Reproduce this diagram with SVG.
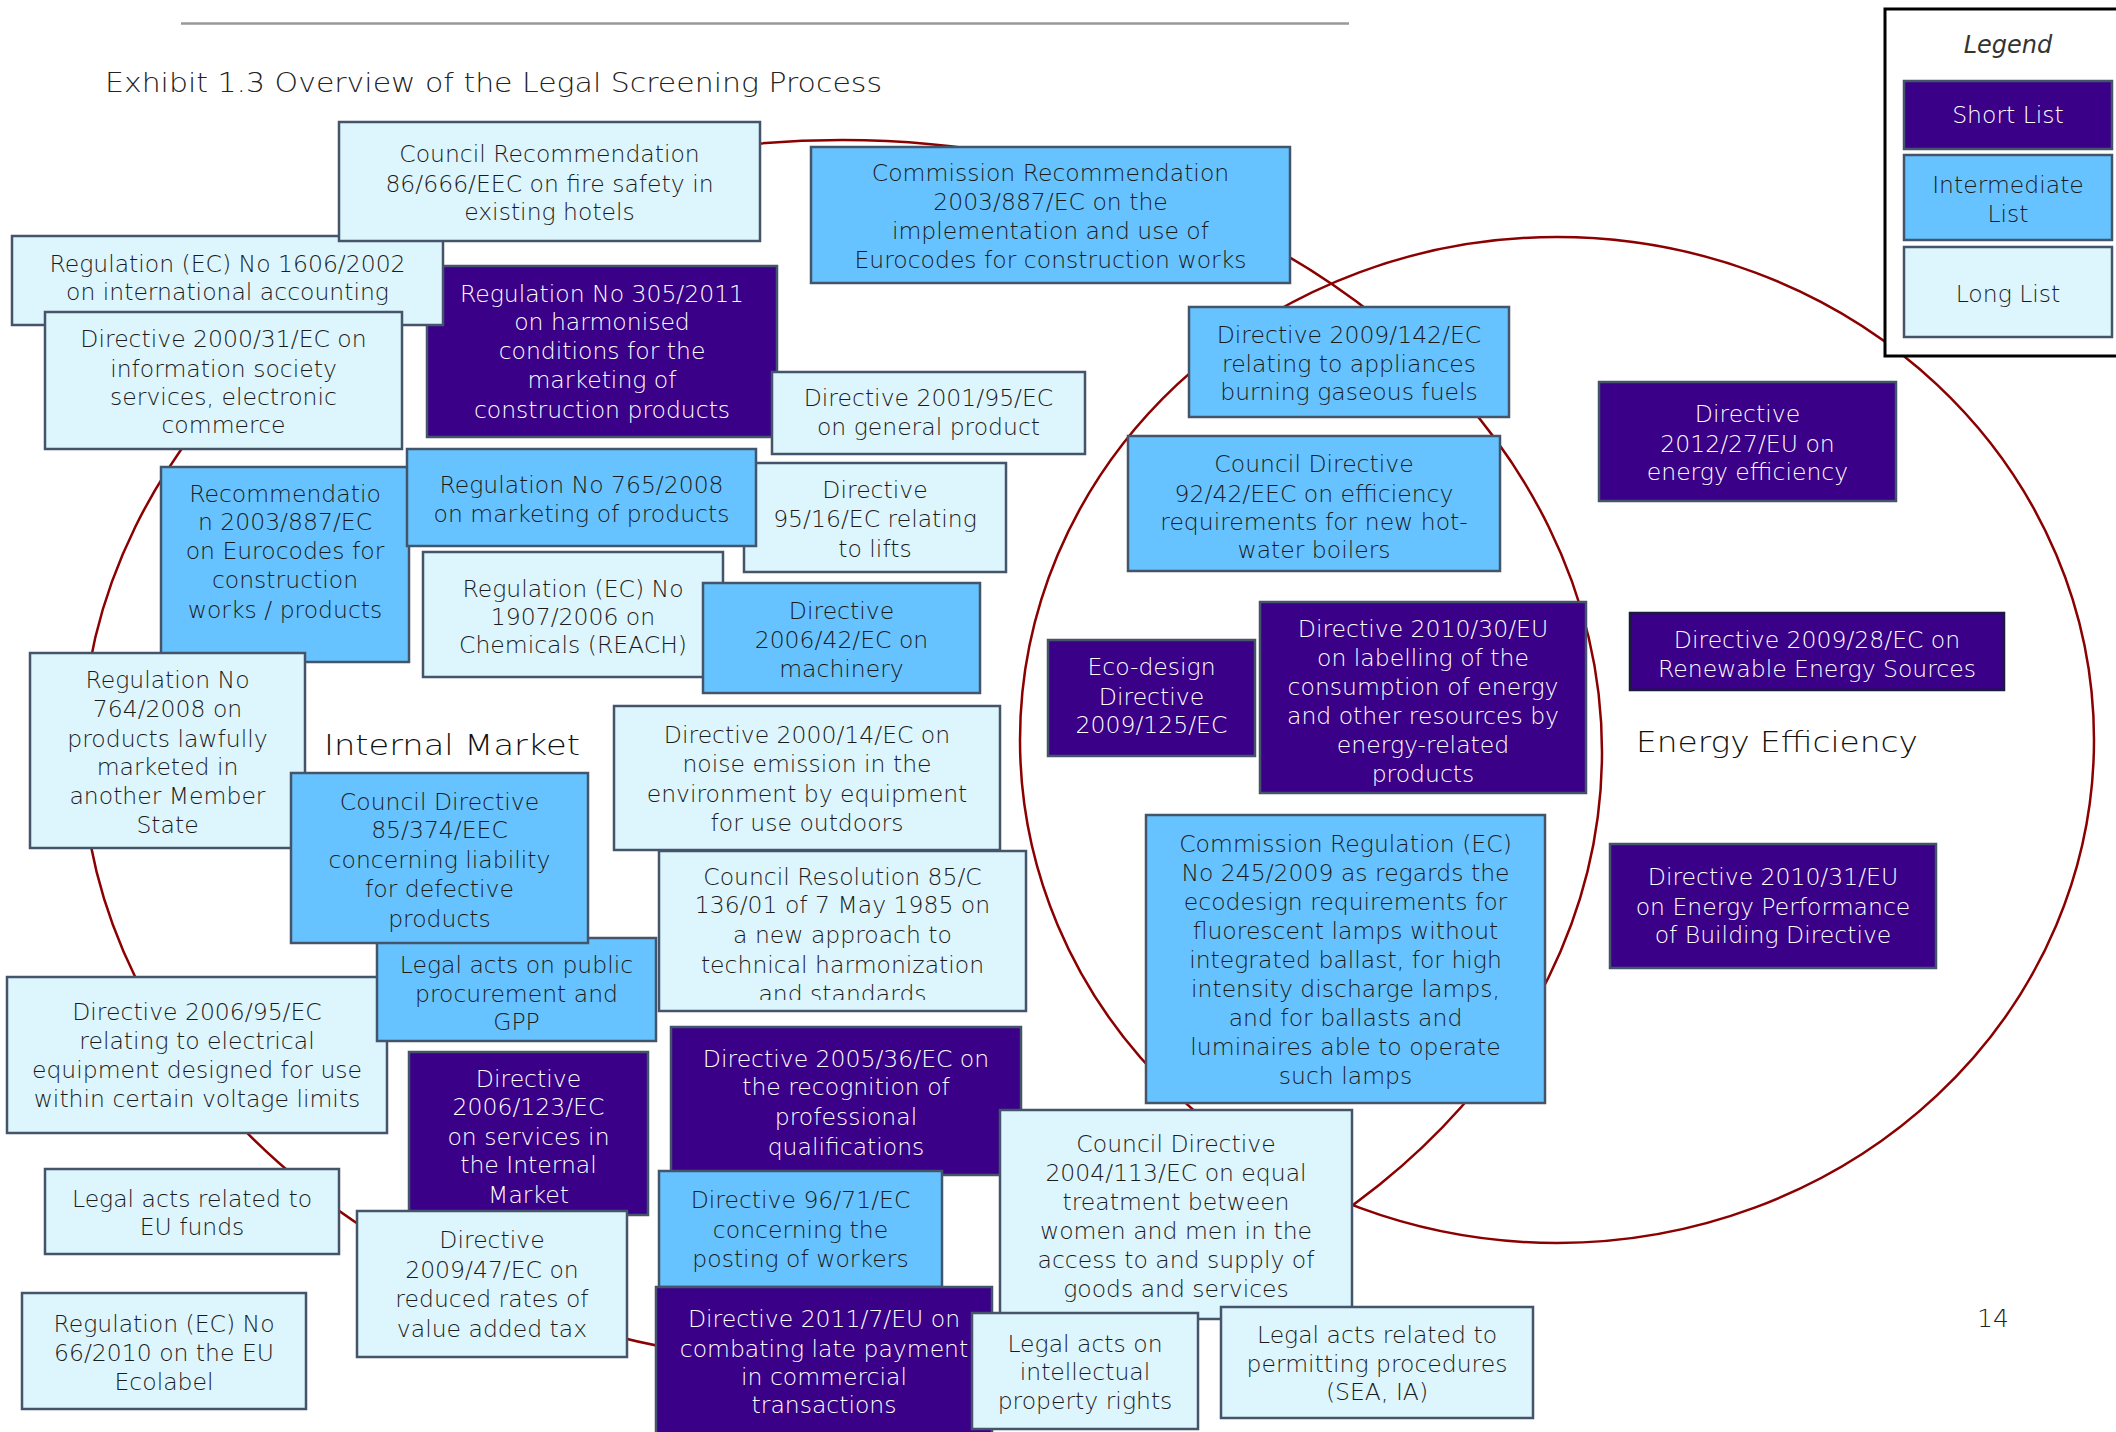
<svg xmlns="http://www.w3.org/2000/svg" width="2116" height="1432" viewBox="0 0 2116 1432">
<style>
.box rect{stroke:#44546A;stroke-width:2.5}
.s rect{fill:#3A0088}
.i rect{fill:#66C3FF}
.l rect{fill:#DDF5FD}
text{font-family:"DejaVu Sans","Liberation Sans",sans-serif;font-weight:200}
.box text{font-size:23.5px;text-anchor:middle;fill:#1b1b1b}
.s text{fill:#ffffff}
.area{fill:none;stroke:#8B0000;stroke-width:2.5}
.lbl{font-size:28px;fill:#111}
</style>
<defs>
<clipPath id="c15"><rect x="659" y="851" width="367" height="149"/></clipPath>
<clipPath id="c32"><rect x="1260" y="602" width="326" height="184"/></clipPath>
<clipPath id="c33"><rect x="1630" y="613" width="374" height="69"/></clipPath>
</defs>
<rect x="0" y="0" width="2116" height="1432" fill="#ffffff"/>
<line x1="181" y1="23.5" x2="1349" y2="23.5" stroke="#999999" stroke-width="2.5"/>
<text x="105" y="92" font-size="26" fill="#222" textLength="777" lengthAdjust="spacingAndGlyphs">Exhibit 1.3 Overview of the Legal Screening Process</text>
<g id="connectors">
<ellipse class="area" cx="842" cy="752" rx="760" ry="612"/>
<ellipse class="area" cx="1557" cy="740" rx="537" ry="503"/>
</g>
<text class="lbl" x="324" y="755" textLength="256" lengthAdjust="spacingAndGlyphs">Internal Market</text>
<text class="lbl" x="1636" y="752" textLength="282" lengthAdjust="spacingAndGlyphs">Energy Efficiency</text>
<g id="n5" class="box s"><rect x="427" y="266" width="350" height="171"/><text x="602" y="302">Regulation No 305/2011</text><text x="602" y="330">on harmonised</text><text x="602" y="359">conditions for the</text><text x="602" y="388">marketing of</text><text x="602" y="418">construction products</text></g>
<g id="n3" class="box l"><rect x="12" y="236" width="431" height="89"/><text x="227.5" y="272">Regulation (EC) No 1606/2002</text><text x="227.5" y="300">on international accounting</text></g>
<g id="n4" class="box l"><rect x="45" y="312" width="357" height="137"/><text x="223.5" y="347">Directive 2000/31/EC on</text><text x="223.5" y="377">information society</text><text x="223.5" y="405">services, electronic</text><text x="223.5" y="433">commerce</text></g>
<g id="n1" class="box l"><rect x="339" y="122" width="421" height="119"/><text x="549.5" y="162">Council Recommendation</text><text x="549.5" y="192">86/666/EEC on fire safety in</text><text x="549.5" y="220">existing hotels</text></g>
<g id="n2" class="box i"><rect x="811" y="147" width="479" height="136"/><text x="1050.5" y="181">Commission Recommendation</text><text x="1050.5" y="210">2003/887/EC on the</text><text x="1050.5" y="239">implementation and use of</text><text x="1050.5" y="268">Eurocodes for construction works</text></g>
<g id="n6" class="box l"><rect x="772" y="372" width="313" height="82"/><text x="928.5" y="406">Directive 2001/95/EC</text><text x="928.5" y="435">on general product</text></g>
<g id="n7" class="box i"><rect x="161" y="467" width="248" height="195"/><text x="285" y="502">Recommendatio</text><text x="285" y="530">n 2003/887/EC</text><text x="285" y="559">on Eurocodes for</text><text x="285" y="588">construction</text><text x="285" y="618">works / products</text></g>
<g id="n9" class="box l"><rect x="744" y="463" width="262" height="109"/><text x="875" y="498">Directive</text><text x="875" y="527">95/16/EC relating</text><text x="875" y="557">to lifts</text></g>
<g id="n8" class="box i"><rect x="407" y="449" width="349" height="97"/><text x="581.5" y="493">Regulation No 765/2008</text><text x="581.5" y="522">on marketing of products</text></g>
<g id="n10" class="box l"><rect x="423" y="552" width="300" height="125"/><text x="573" y="597">Regulation (EC) No</text><text x="573" y="625">1907/2006 on</text><text x="573" y="653">Chemicals (REACH)</text></g>
<g id="n11" class="box i"><rect x="703" y="583" width="277" height="110"/><text x="841.5" y="619">Directive</text><text x="841.5" y="648">2006/42/EC on</text><text x="841.5" y="677">machinery</text></g>
<g id="n12" class="box l"><rect x="30" y="653" width="275" height="195"/><text x="167.5" y="688">Regulation No</text><text x="167.5" y="717">764/2008 on</text><text x="167.5" y="747">products lawfully</text><text x="167.5" y="775">marketed in</text><text x="167.5" y="804">another Member</text><text x="167.5" y="833">State</text></g>
<g id="n17" class="box l"><rect x="7" y="977" width="380" height="156"/><text x="197" y="1020">Directive 2006/95/EC</text><text x="197" y="1049">relating to electrical</text><text x="197" y="1078">equipment designed for use</text><text x="197" y="1107">within certain voltage limits</text></g>
<g id="n16" class="box i"><rect x="377" y="938" width="279" height="103"/><text x="516.5" y="973">Legal acts on public</text><text x="516.5" y="1002">procurement and</text><text x="516.5" y="1030">GPP</text></g>
<g id="n13" class="box i"><rect x="291" y="773" width="297" height="170"/><text x="439.5" y="810">Council Directive</text><text x="439.5" y="838">85/374/EEC</text><text x="439.5" y="868">concerning liability</text><text x="439.5" y="897">for defective</text><text x="439.5" y="927">products</text></g>
<g id="n14" class="box l"><rect x="614" y="706" width="386" height="144"/><text x="807" y="743">Directive 2000/14/EC on</text><text x="807" y="772">noise emission in the</text><text x="807" y="802">environment by equipment</text><text x="807" y="831">for use outdoors</text></g>
<g id="n15" class="box l"><rect x="659" y="851" width="367" height="160"/><g clip-path="url(#c15)"><text x="842.5" y="885">Council Resolution 85/C</text><text x="842.5" y="913">136/01 of 7 May 1985 on</text><text x="842.5" y="943">a new approach to</text><text x="842.5" y="973">technical harmonization</text><text x="842.5" y="1002">and standards</text></g></g>
<g id="n18" class="box s"><rect x="409" y="1052" width="239" height="163"/><text x="528.5" y="1087">Directive</text><text x="528.5" y="1115">2006/123/EC</text><text x="528.5" y="1145">on services in</text><text x="528.5" y="1173">the Internal</text><text x="528.5" y="1203">Market</text></g>
<g id="n19" class="box s"><rect x="671" y="1027" width="350" height="148"/><text x="846" y="1067">Directive 2005/36/EC on</text><text x="846" y="1095">the recognition of</text><text x="846" y="1125">professional</text><text x="846" y="1155">qualifications</text></g>
<g id="n20" class="box l"><rect x="45" y="1169" width="294" height="85"/><text x="192" y="1207">Legal acts related to</text><text x="192" y="1235">EU funds</text></g>
<g id="n21" class="box l"><rect x="357" y="1211" width="270" height="146"/><text x="492" y="1248">Directive</text><text x="492" y="1278">2009/47/EC on</text><text x="492" y="1307">reduced rates of</text><text x="492" y="1337">value added tax</text></g>
<g id="n22" class="box i"><rect x="659" y="1171" width="283" height="116"/><text x="800.5" y="1208">Directive 96/71/EC</text><text x="800.5" y="1238">concerning the</text><text x="800.5" y="1267">posting of workers</text></g>
<g id="n24" class="box s"><rect x="656" y="1287" width="336" height="152"/><text x="824" y="1327">Directive 2011/7/EU on</text><text x="824" y="1357">combating late payment</text><text x="824" y="1385">in commercial</text><text x="824" y="1413">transactions</text></g>
<g id="n23" class="box l"><rect x="22" y="1293" width="284" height="116"/><text x="164" y="1332">Regulation (EC) No</text><text x="164" y="1361">66/2010 on the EU</text><text x="164" y="1390">Ecolabel</text></g>
<g id="n25" class="box l"><rect x="1000" y="1110" width="352" height="209"/><text x="1176" y="1152">Council Directive</text><text x="1176" y="1181">2004/113/EC on equal</text><text x="1176" y="1210">treatment between</text><text x="1176" y="1239">women and men in the</text><text x="1176" y="1268">access to and supply of</text><text x="1176" y="1297">goods and services</text></g>
<g id="n26" class="box l"><rect x="972" y="1313" width="226" height="116"/><text x="1085" y="1352">Legal acts on</text><text x="1085" y="1380">intellectual</text><text x="1085" y="1409">property rights</text></g>
<g id="n27" class="box l"><rect x="1221" y="1307" width="312" height="111"/><text x="1377" y="1343">Legal acts related to</text><text x="1377" y="1372">permitting procedures</text><text x="1377" y="1400">(SEA, IA)</text></g>
<g id="n28" class="box i"><rect x="1189" y="307" width="320" height="110"/><text x="1349" y="343">Directive 2009/142/EC</text><text x="1349" y="372">relating to appliances</text><text x="1349" y="400">burning gaseous fuels</text></g>
<g id="n29" class="box i"><rect x="1128" y="436" width="372" height="135"/><text x="1314" y="472">Council Directive</text><text x="1314" y="502">92/42/EEC on efficiency</text><text x="1314" y="530">requirements for new hot-</text><text x="1314" y="558">water boilers</text></g>
<g id="n30" class="box s"><rect x="1599" y="382" width="297" height="119"/><text x="1747.5" y="422">Directive</text><text x="1747.5" y="452">2012/27/EU on</text><text x="1747.5" y="480">energy efficiency</text></g>
<g id="n31" class="box s"><rect x="1048" y="640" width="207" height="116"/><text x="1151.5" y="675">Eco-design</text><text x="1151.5" y="705">Directive</text><text x="1151.5" y="733">2009/125/EC</text></g>
<g id="n32" class="box s"><rect x="1260" y="602" width="326" height="191"/><g clip-path="url(#c32)"><text x="1423" y="637">Directive 2010/30/EU</text><text x="1423" y="666">on labelling of the</text><text x="1423" y="695">consumption of energy</text><text x="1423" y="724">and other resources by</text><text x="1423" y="753">energy-related</text><text x="1423" y="782">products</text></g></g>
<g id="n33" class="box s"><rect x="1630" y="613" width="374" height="77" style="stroke:#1a1a3a"/><g clip-path="url(#c33)"><text x="1817" y="648">Directive 2009/28/EC on</text><text x="1817" y="677">Renewable Energy Sources</text></g></g>
<g id="n34" class="box i"><rect x="1146" y="815" width="399" height="288"/><text x="1345.5" y="852">Commission Regulation (EC)</text><text x="1345.5" y="881">No 245/2009 as regards the</text><text x="1345.5" y="910">ecodesign requirements for</text><text x="1345.5" y="939">fluorescent lamps without</text><text x="1345.5" y="968">integrated ballast, for high</text><text x="1345.5" y="997">intensity discharge lamps,</text><text x="1345.5" y="1026">and for ballasts and</text><text x="1345.5" y="1055">luminaires able to operate</text><text x="1345.5" y="1084">such lamps</text></g>
<g id="n35" class="box s"><rect x="1610" y="844" width="326" height="124"/><text x="1773" y="885">Directive 2010/31/EU</text><text x="1773" y="915">on Energy Performance</text><text x="1773" y="943">of Building Directive</text></g>
<g id="legend">
<rect x="1885" y="9" width="260" height="347" fill="#ffffff" stroke="#000000" stroke-width="3"/>
<text x="2008" y="53" font-size="24" font-style="italic" text-anchor="middle" fill="#333">Legend</text>
<g id="legend-short" class="box s"><rect x="1904" y="81" width="208" height="68"/><text x="2008" y="123">Short List</text></g>
<g id="legend-intermediate" class="box i"><rect x="1904" y="155" width="208" height="85"/><text x="2008" y="193">Intermediate</text><text x="2008" y="222">List</text></g>
<g id="legend-long" class="box l"><rect x="1904" y="247" width="208" height="90"/><text x="2008" y="302">Long List</text></g>
</g>
<text x="1993" y="1327" font-size="25" text-anchor="middle" fill="#222">14</text>
</svg>
